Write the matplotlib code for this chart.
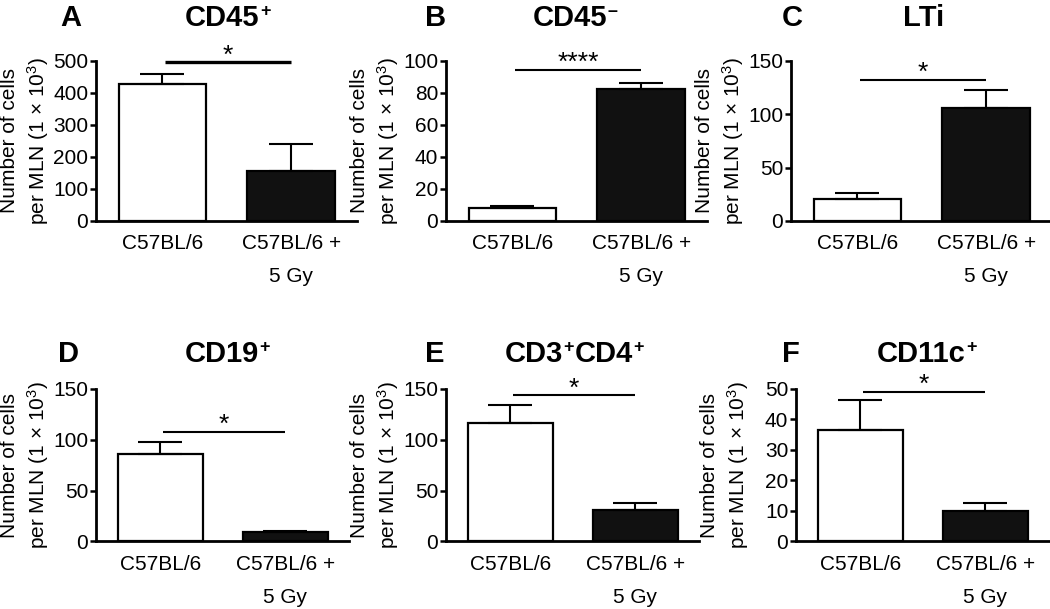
import matplotlib
matplotlib.use('Agg')
import matplotlib.pyplot as plt
import matplotlib.transforms as mtransforms

plt.rcParams['font.family'] = ['Liberation Sans', 'DejaVu Sans']
plt.rcParams['mathtext.fontset'] = 'custom'
plt.rcParams['mathtext.rm'] = 'Liberation Sans'
plt.rcParams['mathtext.it'] = 'Liberation Sans:italic'
plt.rcParams['mathtext.bf'] = 'Liberation Sans:bold'

# data (x 10^3 cells per MLN)
groups = ['C57BL/6', 'C57BL/6 +\n5 Gy']
letters = ['A', 'B', 'C', 'D', 'E', 'F']
# title pieces: (text, superscript?)
titles = [[('CD45', False), ('+', True)],
          [('CD45', False), ('–', True)],
          [('LTi', False)],
          [('CD19', False), ('+', True)],
          [('CD3', False), ('+', True), ('CD4', False), ('+', True)],
          [('CD11c', False), ('+', True)]]
ctrl_mean = [428, 8.3, 20.3, 85.9, 116.7, 36.6]
ctrl_err = [31, 1.2, 6.2, 11.8, 17.6, 9.8]
irr_mean = [155, 82.2, 105.6, 8.9, 30.7, 9.9]
irr_err = [86, 3.5, 16.4, 0.8, 6.8, 2.6]
y_max = [500, 100, 150, 150, 150, 50]
y_step = [100, 20, 50, 50, 50, 10]
sig_text = ['*', '****', '*', '*', '*', '*']
sig_y = [494, 94.2, 131.5, 107.4, 143.7, 49.1]

W, H = 1050, 609
fig = plt.figure(figsize=(W / 100, H / 100), dpi=100)
renderer = fig.canvas.get_renderer()
pix = mtransforms.IdentityTransform()

# axes boxes in pixels: left, top, width, bottom
boxes = [(96, 60.5, 261, 221), (446, 60.5, 261, 221), (791, 60.5, 261, 221),
         (96, 389, 253, 541.3), (446, 389, 253, 541.3), (796, 389, 253, 541.3)]
letter_x = [71, 436, 792, 69, 435, 791]
title_left = [185, 533, 903, 185, 505, 877]
sig_lw = [2.4, 1.5, 1.5, 1.5, 1.5, 1.5]

for i in range(6):
    left, top, width, bottom = boxes[i]
    ax = fig.add_axes([left / W, (H - bottom) / H, width / W, (bottom - top) / H])

    x = [0, 1]
    ax.bar(x, [ctrl_mean[i], irr_mean[i]], width=0.68,
           color=['white', '#111111'], edgecolor='black', linewidth=1.6, zorder=2)
    ax.errorbar(x, [ctrl_mean[i], irr_mean[i]],
                yerr=[[0, 0], [ctrl_err[i], irr_err[i]]],
                fmt='none', ecolor='black', elinewidth=1.5, capsize=15.5,
                capthick=1.5, zorder=3)

    ax.set_xlim(-0.515, 1.51)
    ax.set_ylim(0, y_max[i])
    ax.set_yticks(range(0, y_max[i] + 1, y_step[i]))
    ax.set_xticks(x)
    ax.set_xticklabels(groups, fontsize=15, linespacing=1.95)
    ax.tick_params(axis='x', length=0, pad=9.2 if i < 3 else 10)
    ax.tick_params(axis='y', length=4.5, width=1.8, pad=1, labelsize=15)

    for s in ['top', 'right']:
        ax.spines[s].set_visible(False)
    for s in ['left', 'bottom']:
        ax.spines[s].set_linewidth(2)

    ax.set_ylabel('Number of cells\nper MLN (1 × 10$^{3}$)', fontsize=15, linespacing=1.3)
    ax.yaxis.set_label_coords(-45 / width, 0.5)

    # significance bar
    ax.plot([0.02, 1.0], [sig_y[i], sig_y[i]], color='black', lw=sig_lw[i],
            solid_capstyle='butt', clip_on=False, zorder=4)
    ax.annotate(sig_text[i], xy=(0.51, sig_y[i]), xytext=(0, 0),
                textcoords='offset points', ha='center', va='baseline',
                fontsize=19, annotation_clip=False)

    # panel letter and title
    base = H - (26 if i < 3 else 362)
    fig.text(letter_x[i], base, letters[i], fontsize=21, fontweight='bold',
             ha='center', va='baseline', transform=pix)
    xpos = title_left[i]
    for txt, sup in titles[i]:
        if sup:
            t = fig.text(xpos + 0.5, base + 10, txt, fontsize=13, fontweight='bold',
                         ha='left', va='baseline', transform=pix)
        else:
            t = fig.text(xpos, base, txt, fontsize=21, fontweight='bold',
                         ha='left', va='baseline', transform=pix)
        xpos = t.get_window_extent(renderer).x1

fig.savefig('out.png', dpi=100)
